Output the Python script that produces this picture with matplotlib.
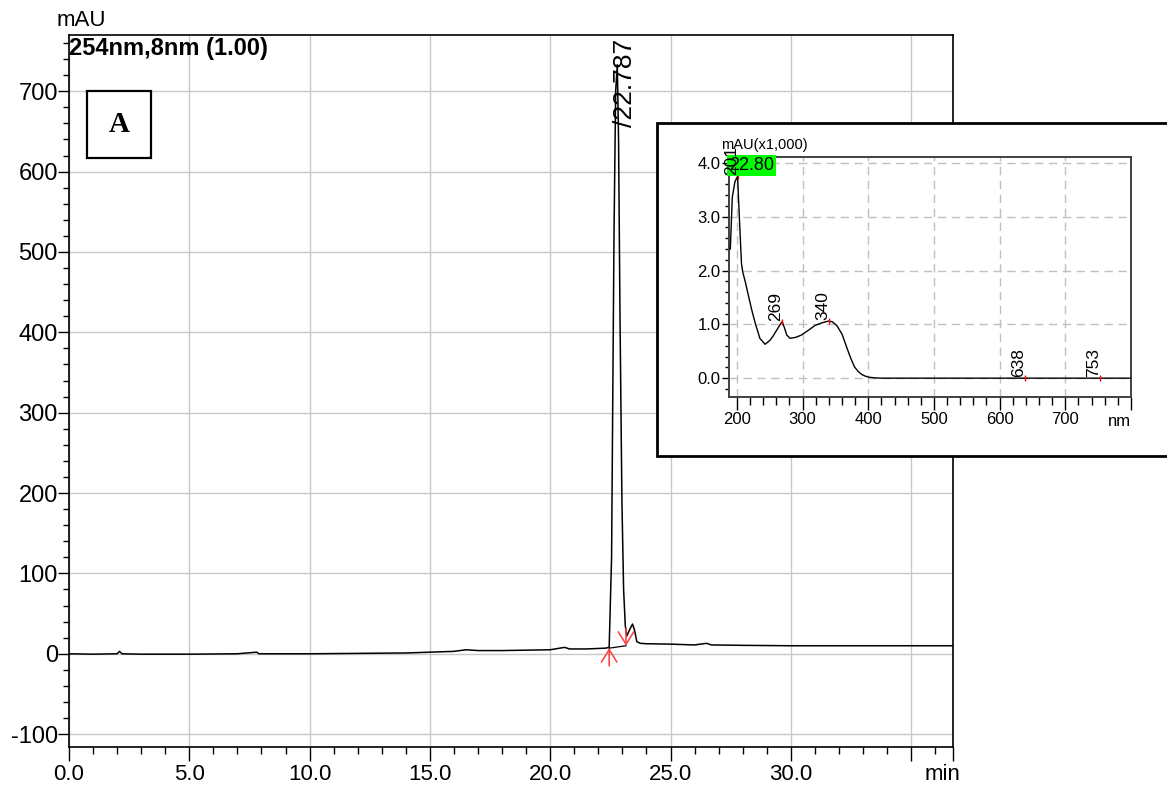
import matplotlib
matplotlib.use("Agg")
import matplotlib.pyplot as plt
from matplotlib.patches import Rectangle
from matplotlib.ticker import MultipleLocator

plt.rcParams["font.family"] = ["Liberation Sans", "DejaVu Sans"]
plt.rcParams["axes.unicode_minus"] = False

# Chromatogram at 254 nm (time in min, signal in mAU)
time_min = [0.0, 1.0, 2.0, 2.1, 2.2, 3.0, 5.0, 7.0, 7.8, 7.9, 10.0, 12.0, 14.0,
            15.0, 16.0, 16.5, 17.0, 18.0, 19.0, 20.0, 20.6, 20.8, 21.5, 22.3,
            22.45, 22.55, 22.65, 22.72, 22.787, 22.84, 22.9, 22.98, 23.05, 23.12,
            23.18, 23.3, 23.42, 23.5, 23.6, 23.75, 24.0, 25.0, 25.5, 26.0, 26.5,
            26.7, 28.0, 30.0, 33.0, 36.8]
signal_mau = [0.0, -0.5, 0.0, 3.0, 0.0, -0.5, -0.5, 0.0, 2.0, 0.0, 0.0, 0.5, 1.0,
              2.0, 3.0, 5.0, 4.0, 4.0, 4.5, 5.0, 8.0, 6.0, 6.0, 7.0,
              8.0, 120.0, 520.0, 700.0, 733.0, 640.0, 420.0, 190.0, 80.0, 35.0,
              22.0, 30.0, 37.0, 30.0, 15.0, 13.0, 12.5, 12.0, 11.5, 11.0, 13.0,
              11.0, 10.5, 10.0, 10.0, 10.0]
peak_rt = 22.787
peak_start = (22.45, 7.0)
peak_end = (23.15, 10.0)

# UV spectrum at 22.80 min (wavelength in nm, absorbance in mAU x1000)
wavelength_nm = [190, 193, 197, 201, 204, 207, 209, 213, 218, 223, 228, 235, 243,
                 250, 255, 260, 265, 269, 272, 276, 281, 290, 298, 310, 319, 330,
                 339, 345, 352, 360, 367, 373, 379, 385, 390, 395, 400, 410, 420,
                 500, 600, 700, 800]
absorb_k = [2.40, 3.36, 3.65, 3.75, 2.93, 2.13, 1.97, 1.78, 1.51, 1.25, 1.02, 0.74,
            0.63, 0.70, 0.78, 0.88, 0.98, 1.05, 0.95, 0.80, 0.74, 0.76, 0.80, 0.90,
            0.98, 1.03, 1.06, 1.05, 0.98, 0.82, 0.58, 0.38, 0.21, 0.12, 0.07, 0.04,
            0.02, 0.005, 0.0, 0.0, 0.0, 0.0, 0.0]
spec_peaks_nm = [201, 269, 340, 638, 753]
spec_peaks_val = [3.75, 1.05, 1.06, 0.0, 0.0]
spec_time = "22.80"

W, H = 1167, 787
fig = plt.figure(figsize=(W / 100, H / 100), dpi=100)

# ---- main chromatogram ----
ax = fig.add_axes([69 / W, 1 - 747 / H, 884 / W, 712 / H])
ax.plot(time_min, signal_mau, color="black", lw=1.1, zorder=3)
ax.plot([peak_start[0], peak_end[0]], [peak_start[1], peak_end[1]],
        color="black", lw=0.9, zorder=3)
arrow_kw = dict(arrowstyle="->,head_length=0.45,head_width=0.28",
                color="#ff3b3b", lw=1.1, mutation_scale=20,
                shrinkA=0, shrinkB=0)
ax.annotate("", xy=peak_start, xytext=(peak_start[0], peak_start[1] - 22),
            arrowprops=arrow_kw, zorder=4)
ax.annotate("", xy=peak_end, xytext=(peak_end[0], peak_end[1] + 22),
            arrowprops=arrow_kw, zorder=4)
ax.text(23.12, 655, "/" + f"{peak_rt:.3f}", rotation=90, ha="center", va="bottom",
        fontsize=19)

xmax = 36.74
ax.set_xlim(0, xmax)
ax.set_ylim(-116, 770)
xt = [0, 5, 10, 15, 20, 25, 30, 35, xmax]
ax.set_xticks(xt)
ax.set_xticklabels([f"{v:.1f}" for v in xt[:7]] + ["", ""])
ax.xaxis.set_minor_locator(MultipleLocator(1))
ax.yaxis.set_major_locator(MultipleLocator(100))
ax.yaxis.set_minor_locator(MultipleLocator(20))
ax.tick_params(axis="x", which="major", direction="out", length=10, width=1,
               labelsize=16, pad=2)
ax.tick_params(axis="x", which="minor", direction="out", length=5, width=1)
ax.tick_params(axis="y", which="major", direction="out", length=8, width=1,
               labelsize=17, pad=0)
ax.tick_params(axis="y", which="minor", direction="out", length=4, width=1)
ax.grid(True, which="major", color="#c8c8c8", lw=1.0)
ax.set_axisbelow(True)
for s in ax.spines.values():
    s.set_color("black")
    s.set_linewidth(1.2)
ax.text(0.988, -0.024, "min", transform=ax.transAxes, ha="center", va="top",
        fontsize=16)
ax.text(0.0, 0.997, "254nm,8nm (1.00)", transform=ax.transAxes, ha="left",
        va="top", fontsize=17, fontweight="bold")
fig.text(57 / W, 1 - 31 / H, "mAU", ha="left", va="bottom", fontsize=16)

# panel letter box
fig.patches.append(Rectangle((87 / W, 1 - 158 / H), 64 / W, 67 / H,
                             transform=fig.transFigure, fill=True,
                             facecolor="white", edgecolor="black", lw=1.6,
                             zorder=2))
fig.text(119 / W, 1 - 125 / H, "A", ha="center", va="center", fontsize=21,
         fontweight="bold", family=["Liberation Serif", "DejaVu Serif"], zorder=3)

# ---- inset frame and spectrum ----
fig.patches.append(Rectangle((657 / W, 1 - 456 / H), (1180 - 657) / W, 333 / H,
                             transform=fig.transFigure, facecolor="white",
                             edgecolor="black", lw=2.0, zorder=2))

ins = fig.add_axes([729 / W, 1 - 397 / H, 402 / W, 240 / H], zorder=3)
ins.plot(wavelength_nm, absorb_k, color="black", lw=1.0, zorder=3)
ins.plot(spec_peaks_nm, spec_peaks_val, ls="none", marker="|", color="red",
         markersize=5, mew=1.0, zorder=4)
ins.text(0.0, 1.0, spec_time, transform=ins.transAxes, ha="left", va="top",
         fontsize=13, zorder=6,
         bbox=dict(boxstyle="square,pad=0.1", facecolor="#00ff00",
                   edgecolor="none"))
for nm, val in zip(spec_peaks_nm, spec_peaks_val):
    ins.text(nm + 2, val + 0.02, str(nm), rotation=90, ha="right", va="bottom",
             fontsize=12.5, zorder=7)
ins.set_xlim(188, 800)
ins.set_ylim(-0.35, 4.11)
ins.set_xticks([200, 300, 400, 500, 600, 700, 800])
ins.set_xticklabels(["200", "300", "400", "500", "600", "700", ""])
ins.xaxis.set_minor_locator(MultipleLocator(20))
ins.set_yticks([0, 1, 2, 3, 4])
ins.set_yticklabels(["0.0", "1.0", "2.0", "3.0", "4.0"])
ins.yaxis.set_minor_locator(MultipleLocator(0.2))
ins.tick_params(axis="x", which="major", direction="out", length=9, width=1,
                labelsize=12, pad=2)
ins.tick_params(axis="x", which="minor", direction="out", length=6, width=1)
ins.tick_params(axis="y", which="major", direction="out", length=5, width=1,
                labelsize=12, pad=1)
ins.tick_params(axis="y", which="minor", direction="out", length=3, width=1)
ins.grid(True, which="major", color="#c0c0c0", ls=(0, (6, 4)), lw=1.0)
ins.set_axisbelow(True)
for s in ins.spines.values():
    s.set_color("#404040")
    s.set_linewidth(1.4)
ins.text(1.0, -0.07, "nm", transform=ins.transAxes, ha="right", va="top",
         fontsize=12)
ins.text(-0.02, 1.02, "mAU(x1,000)", transform=ins.transAxes, ha="left",
         va="bottom", fontsize=10.5)

fig.savefig("out.png", dpi=100)
